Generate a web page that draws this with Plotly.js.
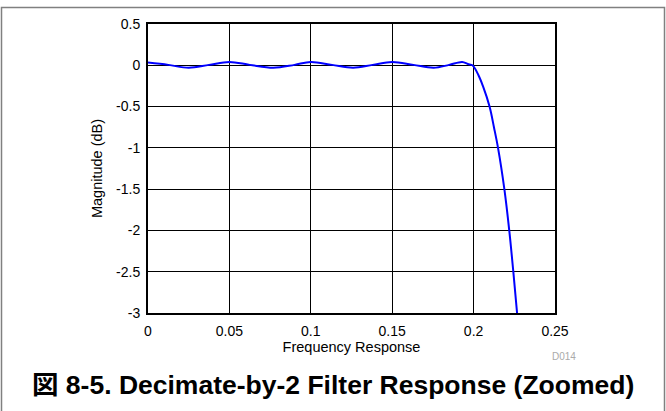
<!DOCTYPE html>
<html>
<head>
<meta charset="utf-8">
<script src="https://cdn.plot.ly/plotly-3.0.1.min.js"></script>
<style>
html,body{margin:0;padding:0;background:#fff;}
#chart{width:666px;height:411px;}
</style>
</head>
<body>
<div id="chart"></div>
<script>
// Data
const frequency = [0, 0.0125, 0.025, 0.0375, 0.05, 0.0625, 0.077, 0.09, 0.1, 0.113, 0.126, 0.138, 0.15, 0.163, 0.1755, 0.185, 0.193, 0.1965, 0.1993, 0.203, 0.2057, 0.2098, 0.2125, 0.215, 0.2189, 0.2219, 0.2244, 0.2267];
const magnitudeDb = [0.033, 0.005, -0.03, 0.005, 0.04, 0.005, -0.03, 0.005, 0.04, 0.005, -0.03, 0.005, 0.04, 0.005, -0.03, 0.005, 0.04, 0.015, 0, -0.12, -0.25, -0.5, -0.75, -1.0, -1.5, -2.0, -2.5, -3.0];
const xTicks = [0, 0.05, 0.1, 0.15, 0.2, 0.25];
const xTickLabels = ['0', '0.05', '0.1', '0.15', '0.2', '0.25'];
const yTicks = [0.5, 0, -0.5, -1, -1.5, -2, -2.5, -3];
const yTickLabels = ['0.5', '0', '-0.5', '-1', '-1.5', '-2', '-2.5', '-3'];
const xTitle = 'Frequency Response';
const yTitle = 'Magnitude (dB)';
const caption = '図 8-5. Decimate-by-2 Filter Response (Zoomed)';
const figId = 'D014';

const W = 666, H = 411;
const m = {l: 148, r: 111, t: 24, b: 98};
const pw = W - m.l - m.r, ph = H - m.t - m.b;
const px = x => (x - m.l) / pw;
const py = y => (H - m.b - y) / ph;

const font = 'Liberation Sans, Arial, Helvetica, sans-serif';

const trace = {
  x: frequency, y: magnitudeDb, type: 'scatter', mode: 'lines',
  line: {color: '#0000ff', width: 2, shape: 'spline', smoothing: 1},
  hoverinfo: 'skip'
};

const axisCommon = {
  showgrid: true, gridcolor: '#000', gridwidth: 1,
  zeroline: false, showline: true, linecolor: '#000', linewidth: 2, mirror: true,
  ticks: '', tickfont: {family: font, size: 14, color: '#000'}
};

const layout = {
  width: W, height: H,
  margin: m,
  paper_bgcolor: '#fff', plot_bgcolor: '#fff',
  showlegend: false,
  xaxis: Object.assign({}, axisCommon, {
    range: [0, 0.25], tickvals: xTicks, ticktext: xTickLabels,
    ticklabelstandoff: 4,
    title: {text: xTitle, font: {family: font, size: 14.5, color: '#000'}, standoff: 0}
  }),
  yaxis: Object.assign({}, axisCommon, {
    range: [-3, 0.5], tickvals: yTicks, ticktext: yTickLabels,
    ticklabelstandoff: 3,
    title: {text: yTitle, font: {family: font, size: 14.5, color: '#000'}, standoff: 10}
  }),
  annotations: [
    {text: caption, xref: 'paper', yref: 'paper', x: px(333), y: py(385),
     xanchor: 'center', yanchor: 'middle', showarrow: false,
     font: {family: 'Liberation Sans, Noto Sans CJK JP, sans-serif', size: 26.5, color: '#000', weight: 'bold'}},
    {text: figId, xref: 'paper', yref: 'paper', x: px(564), y: py(356),
     xanchor: 'center', yanchor: 'middle', showarrow: false,
     font: {family: font, size: 10, color: '#aaaaaa'}}
  ],
  shapes: [
    {type: 'path', xref: 'paper', yref: 'paper',
     path: `M ${px(1.5)},${py(411)} L ${px(1.5)},${py(7.5)} L ${px(664.5)},${py(7.5)} L ${px(664.5)},${py(411)}`,
     line: {color: '#808080', width: 1.5}}
  ]
};

Plotly.newPlot('chart', [trace], layout, {staticPlot: true, displayModeBar: false});
</script>
</body>
</html>
